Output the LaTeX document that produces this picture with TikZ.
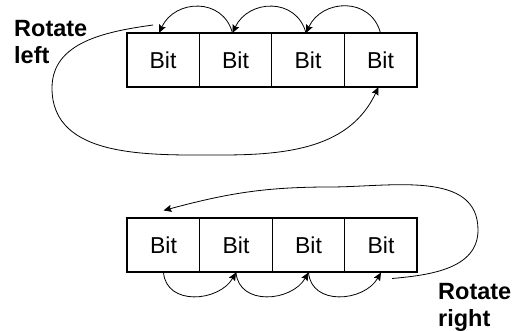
\documentclass[tikz,border=0pt]{standalone}
\usepackage{fontspec}
\setmainfont{Liberation Sans}
\usetikzlibrary{positioning,arrows.meta}

\begin{document}
\begin{tikzpicture}[x=1pt, y=1pt,
	bit/.style={draw, line width=0.8pt, minimum width=72.5pt, minimum height=54pt, inner sep=0pt, outer sep=0pt, font=\fontsize{23}{27}\selectfont},
	move/.style={line width=0.8pt, -{Stealth[length=8pt,width=7pt,inset=1.2pt]}},
	rotname/.style={anchor=north west, inner sep=0pt, align=left, font=\fontsize{23.5}{27}\selectfont\bfseries}]
			%%%%% START %%%%%
			
			\useasboundingbox (0, 0) rectangle (514, 331);
			
			%%%%% ROTATE LEFT %%%%%
			\node[bit] (t1) at (163, 271) {Bit};
			\node[bit, right=0pt of t1] (t2) {Bit};
			\node[bit, right=0pt of t2] (t3) {Bit};
			\node[bit, right=0pt of t3] (t4) {Bit};
			\draw[line width=2pt] (t1.north west) rectangle (t4.south east);
			
			\draw[move] ([xshift=-3pt]t2.north) to[out=105, in=65, looseness=1.3] ([xshift=-4pt]t1.north);
			\draw[move] ([xshift=-2pt]t3.north) to[out=105, in=65, looseness=1.3] ([xshift=-3pt]t2.north);
			\draw[move] (t4.north) to[out=105, in=65, looseness=1.3] ([xshift=-2pt]t3.north);
			\draw[move] ([xshift=-10pt, yshift=8pt]t1.north) to[out=188, in=90] (52, 243) to[out=-90, in=180] (222, 176) to[out=0, in=-115] ([xshift=-2pt]t4.south);
			
			\node[rotname] (rl) at (14, 311) {Rotate\\left};
			
			%%%%% ROTATE RIGHT %%%%%
			\node[bit] (b1) at (163.5, 85.5) {Bit};
			\node[bit, right=0pt of b1] (b2) {Bit};
			\node[bit, right=0pt of b2] (b3) {Bit};
			\node[bit, right=0pt of b3] (b4) {Bit};
			\draw[line width=2pt] (b1.north west) rectangle (b4.south east);
			
			\draw[move] (b1.south) to[out=-85, in=-120, looseness=1.2] (b2.south);
			\draw[move] (b2.south) to[out=-85, in=-120, looseness=1.2] (b3.south);
			\draw[move] (b3.south) to[out=-85, in=-120, looseness=1.2] (b4.south);
			\draw[move] ([xshift=11pt, yshift=-6pt]b4.south) to[out=5, in=-90] (478, 101) to[out=90, in=0] (330, 144) to[out=180, in=15] ([yshift=8pt]b1.north);
			
			\node[rotname] (rr) at (438, 48.3) {Rotate\\right};
			
			%%%%% END %%%%%
\end{tikzpicture}
\end{document}
